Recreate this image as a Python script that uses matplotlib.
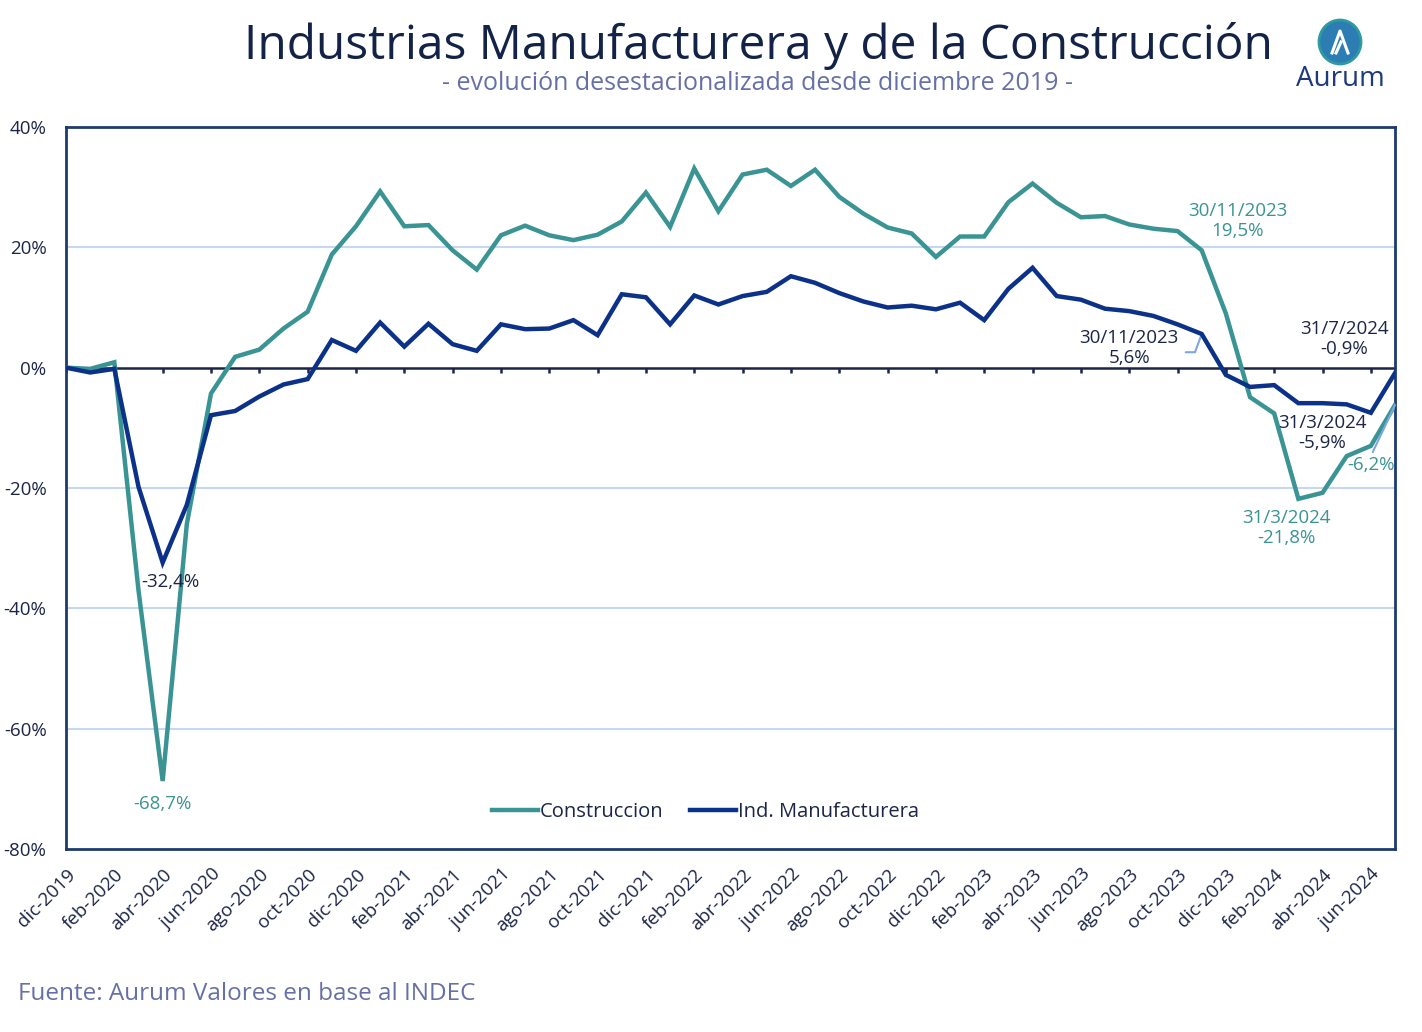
import matplotlib
matplotlib.use("Agg")
import matplotlib.pyplot as plt
from matplotlib.patches import Ellipse
from matplotlib.lines import Line2D

plt.rcParams['font.family'] = ['Open Sans', 'DejaVu Sans']

# ---------------- data ----------------
tick_labels = ["dic-2019", "feb-2020", "abr-2020", "jun-2020", "ago-2020", "oct-2020",
               "dic-2020", "feb-2021", "abr-2021", "jun-2021", "ago-2021", "oct-2021",
               "dic-2021", "feb-2022", "abr-2022", "jun-2022", "ago-2022", "oct-2022",
               "dic-2022", "feb-2023", "abr-2023", "jun-2023", "ago-2023", "oct-2023",
               "dic-2023", "feb-2024", "abr-2024", "jun-2024"]

construccion = [0.0, -0.2, 0.9, -37.0, -68.7, -26.0, -4.3, 1.8, 3.0, 6.5, 9.3,
                18.8, 23.5, 29.3, 23.5, 23.7, 19.5, 16.3, 22.0,
                23.6, 22.0, 21.2, 22.1, 24.3, 29.1, 23.4, 33.1, 26.0, 32.1, 32.9, 30.2, 32.9, 28.4, 25.6, 23.3, 22.3,
                18.4, 21.8, 21.8, 27.5, 30.6, 27.4, 25.0, 25.2, 23.8, 23.1, 22.7, 19.5,
                9.0, -4.9, -7.6, -21.8, -20.8, -14.7, -13.0, -6.2]

manufactura = [0.0, -0.8, -0.2, -19.8, -32.4, -22.8, -7.9, -7.2, -4.8, -2.8, -1.9,
               4.6, 2.8, 7.5, 3.5, 7.3, 3.9, 2.8, 7.2,
               6.4, 6.5, 7.9, 5.4, 12.2, 11.7, 7.2, 12.0, 10.5, 11.9, 12.6, 15.2, 14.1, 12.4, 11.0, 10.0, 10.3,
               9.7, 10.8, 7.9, 13.1, 16.6, 11.9, 11.3, 9.8, 9.4, 8.6, 7.2, 5.6,
               -1.2, -3.2, -2.9, -5.9, -5.9, -6.1, -7.5, -0.9]

y_ticks = [40, 20, 0, -20, -40, -60, -80]
y_tick_labels = ["40%", "20%", "0%", "-20%", "-40%", "-60%", "-80%"]

# ---------------- style ----------------
TEAL = '#3a9494'
NAVY = '#0c3189'
TXT = '#1b2547'
TITLE = '#132347'
GRID = '#c6d7f2'
SPINE = '#1f3a6e'
SUB = '#6670a8'
LEAD = '#7ea6e0'

fig = plt.figure(figsize=(14.22, 10.32), dpi=100)
ax = fig.add_axes([66/1422, 1-849/1032, (1395-66)/1422, (849-127)/1032])

x = list(range(len(construccion)))
ax.set_xlim(0, len(x) - 1)
ax.set_ylim(-80, 40)

for g in [20, -20, -40, -60]:
    ax.axhline(g, color=GRID, lw=1.5, zorder=1)
ax.axhline(0, color=TXT, lw=1.8, zorder=2)
# small ticks under zero line every two months
ax.vlines(x[::2], -0.9, 0, color=TXT, lw=1.8, zorder=2)

ax.plot(x, construccion, color=TEAL, lw=3.2, label='Construccion', zorder=3, solid_joinstyle='miter')
ax.plot(x, manufactura, color=NAVY, lw=3.2, label='Ind. Manufacturera', zorder=4, solid_joinstyle='miter')

for s in ax.spines.values():
    s.set_color(SPINE)
    s.set_linewidth(2)

ax.set_yticks(y_ticks)
ax.set_yticklabels(y_tick_labels, fontsize=13.5, color=TXT)
ax.tick_params(axis='y', length=0, pad=14)
ax.set_xticks(x[::2])
ax.set_xticklabels(tick_labels, rotation=45, ha='right', rotation_mode='anchor',
                   fontsize=13.5, color=TXT)
ax.tick_params(axis='x', length=0, pad=12)

leg = ax.legend(loc='lower center', bbox_to_anchor=(0.481, 0.012), ncol=2, frameon=False,
                fontsize=14.5, handlelength=2.3, handletextpad=0.1, columnspacing=1.3,
                labelcolor=TXT)

# ---------------- annotations ----------------
ANN = dict(fontsize=13.5, ha='center', va='center', linespacing=1.15)
i_min = construccion.index(min(construccion))
ax.text(i_min, -72.5, "-68,7%", color=TEAL, **ANN)
j_min = manufactura.index(min(manufactura))
ax.text(j_min + 0.3, -35.7, "-32,4%", color=TXT, **ANN)

ax.text(48.5, 24.4, "30/11/2023\n19,5%", color=TEAL, **ANN)
ax.annotate("30/11/2023\n5,6%", xy=(47, manufactura[47]), xytext=(44.0, 3.2),
            color=TXT,
            arrowprops=dict(arrowstyle='-', color=LEAD, lw=1.5, relpos=(1.0, 0.4),
                            shrinkA=3, shrinkB=0, connectionstyle="angle,angleA=0,angleB=70,rad=0"),
            **ANN)
ax.text(52.9, 4.8, "31/7/2024\n-0,9%", color=TXT, **ANN)
ax.text(52.0, -10.9, "31/3/2024\n-5,9%", color=TXT, **ANN)
ax.text(50.5, -26.7, "31/3/2024\n-21,8%", color=TEAL, **ANN)
ax.annotate("-6,2%", xy=(55, construccion[55]), xytext=(54.0, -16.2),
            color=TEAL,
            arrowprops=dict(arrowstyle='-', color=LEAD, lw=1.5, relpos=(0.5, 1.0),
                            shrinkA=1, shrinkB=0),
            **ANN)

# ---------------- titles ----------------
fig.text(758/1422, 1-46/1032, "Industrias Manufacturera y de la Construcción",
         ha='center', va='center', fontsize=34.5, color=TITLE, fontweight='medium')
fig.text(758/1422, 1-83/1032, "- evolución desestacionalizada desde diciembre 2019 -",
         ha='center', va='center', fontsize=18, color=SUB, fontweight='medium')
fig.text(18/1422, 1-994/1032, "Fuente: Aurum Valores en base al INDEC",
         ha='left', va='center', fontsize=17.5, color=SUB)

# ---------------- logo ----------------
cx, cy = 1340/1422, 1-42/1032
logo = Ellipse((cx, cy), 42/1422, 44/1032, transform=fig.transFigure,
               facecolor='#2b7db3', edgecolor='#2f9aa0', lw=2)
fig.patches.append(logo)
fig.lines.append(Line2D([cx-8/1422, cx, cx+8/1422], [cy-11/1032, cy+11/1032, cy-11/1032],
                        transform=fig.transFigure, color='white', lw=2.2))
fig.lines.append(Line2D([cx-4/1422, cx+1/1422], [cy-11/1032, cy], transform=fig.transFigure,
                        color='white', lw=2.2))
fig.text(1340/1422, 1-79/1032, "Aurum", ha='center', va='center', fontsize=20,
         color='#1d3a7a')

fig.savefig("out.png", dpi=100, facecolor='white')
